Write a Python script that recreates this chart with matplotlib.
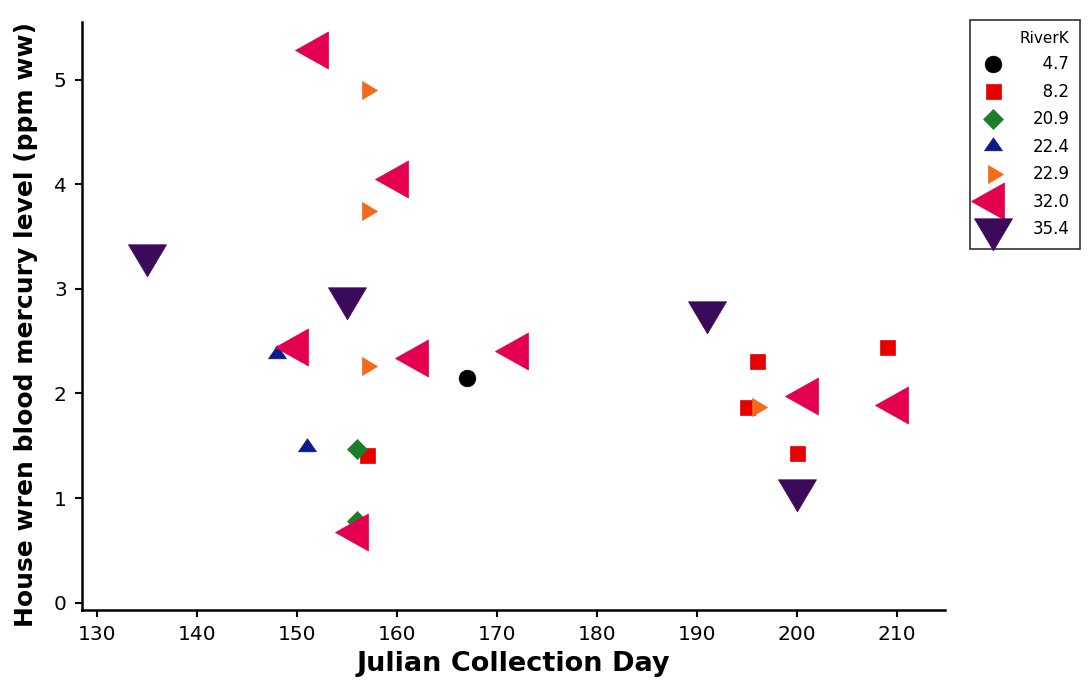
import matplotlib
matplotlib.use("Agg")
import matplotlib.pyplot as plt
from matplotlib.path import Path

# ---- data (Julian day, blood Hg ppm ww) per RiverK group ----
groups = ["4.7", "8.2", "20.9", "22.4", "22.9", "32.0", "35.4"]
x_47 = [167]
y_47 = [2.15]
x_82 = [157, 195, 196, 200, 209]
y_82 = [1.41, 1.87, 2.31, 1.43, 2.44]
x_209 = [156, 156]
y_209 = [1.47, 0.78]
x_224 = [148, 151]
y_224 = [2.38, 1.49]
x_229 = [157, 157, 157, 196]
y_229 = [4.90, 3.74, 2.26, 1.87]
x_320 = [152, 160, 150, 162, 172, 156, 201, 210]
y_320 = [5.28, 4.05, 2.44, 2.34, 2.41, 0.68, 1.98, 1.89]
x_354 = [135, 155, 191, 200]
y_354 = [3.32, 2.91, 2.78, 1.08]

xs = [x_47, x_82, x_209, x_224, x_229, x_320, x_354]
ys = [y_47, y_82, y_209, y_224, y_229, y_320, y_354]

x_ticks = [130, 140, 150, 160, 170, 180, 190, 200, 210]
y_ticks = [0, 1, 2, 3, 4, 5]

# ---- marker styles (triangles centred on centroid, JMP style) ----
def tri(verts):
    v = list(verts) + [verts[0]]
    codes = [Path.MOVETO, Path.LINETO, Path.LINETO, Path.CLOSEPOLY]
    return Path(v, codes)

left_tri = tri([(-22, 0), (11, 18.5), (11, -18.5)])
down_tri = tri([(0, -21.3), (19, 10.7), (-19, 10.7)])
right_tri = tri([(10, 0), (-5, 9), (-5, -9)])
up_tri = tri([(0, 8.7), (9, -4.3), (-9, -4.3)])

styles = [
    dict(marker="o", color="#000000", ms=12.0),
    dict(marker="s", color="#e60000", ms=10.8),
    dict(marker="D", color="#1b7f2a", ms=9.7),
    dict(marker=up_tri, color="#0b1a8a", ms=13.0),
    dict(marker=right_tri, color="#f26a1b", ms=14.4),
    dict(marker=left_tri, color="#e3004f", ms=31.7),
    dict(marker=down_tri, color="#3c0a5a", ms=30.7),
]

fig = plt.figure(figsize=(10.89, 6.94), dpi=100)
ax = fig.add_axes([82 / 1089, 1 - 610 / 694, (945 - 82) / 1089, (610 - 22) / 694])

handles = []
for g, x, y, st in zip(groups, xs, ys, styles):
    (h,) = ax.plot(x, y, linestyle="none", marker=st["marker"], ms=st["ms"],
                   color=st["color"], markeredgecolor=st["color"], markeredgewidth=0.5)
    handles.append(h)

ax.set_xlim(128.5, 214.8)
ax.set_ylim(-0.07, 5.55)
ax.set_xticks(x_ticks)
ax.set_yticks(y_ticks)
ax.spines["top"].set_visible(False)
ax.spines["right"].set_visible(False)
for s in ("left", "bottom"):
    ax.spines[s].set_linewidth(1.8)
ax.tick_params(axis="both", direction="out", length=5, width=1.5, labelsize=14.5, pad=6)

ax.set_xlabel("Julian Collection Day", fontsize=19.5, fontweight="bold", labelpad=5)
ax.set_ylabel("House wren blood mercury level (ppm ww)", fontsize=18, fontweight="bold")
ax.yaxis.set_label_coords(-0.051, 0.486)

fs = "\u2007"
labels = [fs + "4.7", fs + "8.2", "20.9", "22.4", "22.9", "32.0", "35.4"]
leg = ax.legend(handles, labels, title="RiverK", loc="upper left",
                bbox_to_anchor=(970 / 1089, 1 - 20 / 694), bbox_transform=fig.transFigure,
                borderaxespad=0, fontsize=12, title_fontsize=11, frameon=True,
                fancybox=False, edgecolor="black", labelspacing=0.57,
                handlelength=1.5, handletextpad=1.6, borderpad=0.65,
                alignment="right", numpoints=1)
leg.get_frame().set_linewidth(1.2)

fig.savefig("out.png", dpi=100)
